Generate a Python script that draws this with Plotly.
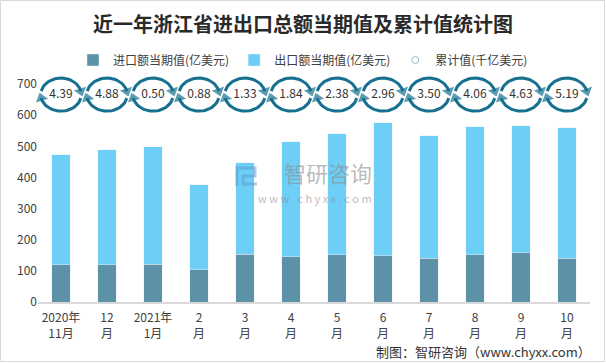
import numpy as np
import plotly.graph_objects as go

categories = ["2020年<br>11月", "12<br>月", "2021年<br>1月", "2<br>月", "3<br>月", "4<br>月",
              "5<br>月", "6<br>月", "7<br>月", "8<br>月", "9<br>月", "10<br>月"]
imports = [119, 119, 122, 103, 154, 145, 151, 148, 141, 151, 158, 141]
exports = [354, 370, 376, 273, 293, 369, 389, 428, 393, 412, 408, 418]
cumulative = [4.39, 4.88, 0.50, 0.88, 1.33, 1.84, 2.38, 2.96, 3.50, 4.06, 4.63, 5.19]
y_ticks = [0, 100, 200, 300, 400, 500, 600, 700]

W, H = 606, 363
L, R, T, B = 38, 16, 65, 61
PW, PH = W - L - R, H - T - B
PX_PER_UNIT = 0.3114
Y_TOP = PH / PX_PER_UNIT

C_IMP = "#5d91a8"
C_EXP = "#6dcff6"
C_RING = "#17708f"
FONT = "Noto Sans CJK SC"

xs = list(range(len(categories)))
fig = go.Figure()
fig.add_trace(go.Bar(x=xs, y=imports, name="进口额当期值(亿美元)", marker_color=C_IMP, width=0.41))
fig.add_trace(go.Bar(x=xs, y=exports, name="出口额当期值(亿美元)", marker_color=C_EXP, width=0.41))
fig.add_trace(go.Scatter(x=[None], y=[None], mode="markers", name="累计值(千亿美元)",
                         marker=dict(symbol="circle-open", size=7, color="#9fb6c4", line=dict(width=1))))

# ring icons around cumulative value labels
ring_y = 666
rx, ry = 0.44, 53
def arc(cx, a0, a1):
    t = np.radians(np.linspace(a0, a1, 30))
    return cx + rx * np.cos(t), ring_y + ry * np.sin(t)

for i in xs:
    for a0, a1 in [(168, 12), (348, 192)]:
        ax_, ay_ = arc(i, a0, a1)
        sizes = [0] * (len(ax_) - 1) + [11]
        fig.add_trace(go.Scatter(x=ax_, y=ay_, mode="lines+markers", showlegend=False, hoverinfo="skip",
                                 cliponaxis=False,
                                 line=dict(color=C_RING, width=3),
                                 marker=dict(symbol="triangle-up", size=sizes, color=C_RING,
                                             angleref="previous", line=dict(width=0))))

fig.add_trace(go.Scatter(x=xs, y=[ring_y] * len(xs), mode="text", showlegend=False, cliponaxis=False,
                         text=[f"{v:.2f}" for v in cumulative],
                         textfont=dict(size=12, color="#333333", family=FONT), hoverinfo="skip"))

def xp(px):
    return (px - L) / PW
def yp(py):
    return (T + PH - py) / PH

fig.update_layout(
    width=W, height=H, margin=dict(l=L, r=R, t=T, b=B),
    barmode="stack", plot_bgcolor="white", paper_bgcolor="white",
    font=dict(family=FONT, size=12, color="#404040"),
    title=dict(text="<b>近一年浙江省进出口总额当期值及累计值统计图</b>", x=0.5, xanchor="center",
               y=1 - 25 / H, yanchor="middle", font=dict(size=20, color="#2a2a2a", family=FONT)),
    legend=dict(orientation="h", x=xp(303), xanchor="center", y=yp(60), yanchor="middle",
                traceorder="normal",
                font=dict(size=12, color="#404040"), itemwidth=30, bgcolor="rgba(0,0,0,0)"),
    xaxis=dict(range=[-0.5, len(xs) - 0.5], tickvals=xs, ticktext=categories, showgrid=False,
               showline=True, linecolor="#d9d9d9", linewidth=1.5, ticks="", zeroline=False,
               ticklabelstandoff=4, tickfont=dict(size=12, color="#404040")),
    yaxis=dict(range=[0, Y_TOP], tickvals=y_ticks, showgrid=False, zeroline=False, showline=False,
               ticks="", tickfont=dict(size=12, color="#404040")),
    showlegend=True,
)

# outer border
fig.add_shape(type="rect", xref="paper", yref="paper", x0=xp(0.5), x1=xp(604.5), y0=yp(361.5), y1=yp(0.5),
              line=dict(color="#d9d9d9", width=1), layer="below")

# watermark logo (drawn as a path)
def pth(points):
    return "M " + " L ".join(f"{xp(a):.5f},{yp(b):.5f}" for a, b in points)
fig.add_shape(type="path", xref="paper", yref="paper",
              path=pth([(239, 168), (255, 168), (255, 176), (243, 176), (243, 184), (257, 184)]),
              line=dict(color="rgba(90,150,205,0.5)", width=3))
fig.add_shape(type="line", xref="paper", yref="paper", x0=xp(237), x1=xp(237), y0=yp(166), y1=yp(186),
              line=dict(color="rgba(90,150,205,0.5)", width=3))

# watermark text
fig.add_annotation(xref="paper", yref="paper", x=xp(374), y=yp(172), xanchor="right", yanchor="middle",
                   showarrow=False, text="智研咨询",
                   font=dict(size=22, color="rgba(140,140,140,0.6)", family=FONT))
fig.add_annotation(xref="paper", yref="paper", x=xp(374), y=yp(198), xanchor="right", yanchor="middle",
                   showarrow=False, text="w w w . c h y x x . c o m",
                   font=dict(size=11, color="rgba(140,140,140,0.6)", family=FONT))

# source
fig.add_annotation(xref="paper", yref="paper", x=xp(593), y=yp(351), xanchor="right", yanchor="middle",
                   text="制图：智研咨询（www.chyxx.com）", showarrow=False,
                   font=dict(size=13, color="#333333", family=FONT))

fig.write_html("out.html", config={"displayModeBar": False},
               post_script="document.body.style.margin='0';document.body.style.overflow='hidden';")
